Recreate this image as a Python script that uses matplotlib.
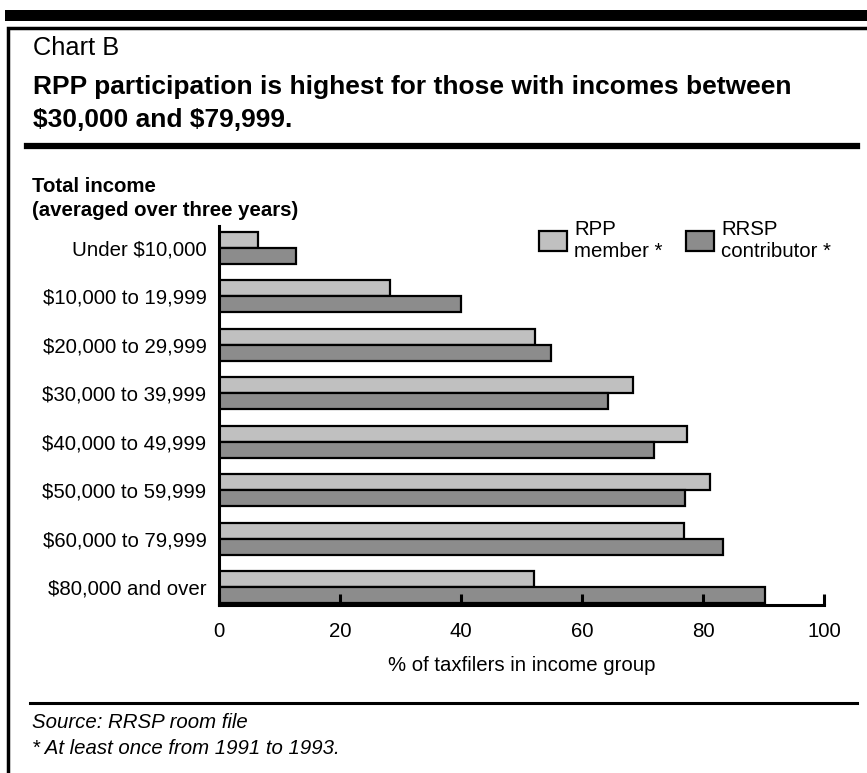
import matplotlib.pyplot as plt
from matplotlib.patches import Rectangle
from matplotlib.lines import Line2D
import numpy as np

plt.rcParams['font.family'] = ['Liberation Sans', 'DejaVu Sans']

categories = ['Under \\$10,000', '\\$10,000 to 19,999', '\\$20,000 to 29,999',
              '\\$30,000 to 39,999', '\\$40,000 to 49,999', '\\$50,000 to 59,999',
              '\\$60,000 to 79,999', '\\$80,000 and over']
rpp_member = [6.5, 28.2, 52.3, 68.4, 77.4, 81.1, 76.8, 52.0]
rrsp_contributor = [12.8, 40.0, 54.9, 64.3, 71.9, 77.1, 83.3, 90.3]
x_ticks = [0, 20, 40, 60, 80, 100]

W, H = 867, 773
fig = plt.figure(figsize=(W / 100, H / 100), dpi=100)

def fx(px):
    return px / W

def fy(py):
    return 1 - py / H

FS = 14.7

# page decorations
fig.add_artist(Rectangle((fx(5), fy(21)), 1, fy(10) - fy(21), transform=fig.transFigure,
                         color='black', lw=0))
fig.add_artist(Rectangle((fx(8), -0.1), 1.2, fy(28) + 0.1, transform=fig.transFigure,
                         fill=False, edgecolor='black', lw=2.5))
fig.add_artist(Line2D([fx(27), fx(857)], [fy(146), fy(146)], transform=fig.transFigure,
                      color='black', lw=4.5))
fig.add_artist(Line2D([fx(30), fx(857)], [fy(703), fy(703)], transform=fig.transFigure,
                      color='black', lw=2.2))

fig.text(fx(33), fy(48), 'Chart B', fontsize=18.3, va='center', ha='left')
fig.text(fx(33), fy(87), 'RPP participation is highest for those with incomes between',
         fontsize=19, fontweight='bold', va='center', ha='left')
fig.text(fx(33), fy(120), '\\$30,000 and \\$79,999.', fontsize=19, fontweight='bold',
         va='center', ha='left')
fig.text(fx(32), fy(186), 'Total income', fontsize=FS, fontweight='bold', va='center')
fig.text(fx(32), fy(210), '(averaged over three years)', fontsize=FS, fontweight='bold',
         va='center')
fig.text(fx(32), fy(723), 'Source: RRSP room file', fontsize=FS, style='italic', va='center')
fig.text(fx(32), fy(748), '* At least once from 1991 to 1993.', fontsize=FS, style='italic',
         va='center')

# chart
ax = fig.add_axes([fx(219), fy(605), fx(824) - fx(219), fy(226) - fy(605)])
y = np.arange(len(categories))
h = 0.33
ax.barh(y - h / 2, rpp_member, height=h, color='#c0c0c0', edgecolor='black', lw=1.6,
        label='RPP\nmember *')
ax.barh(y + h / 2, rrsp_contributor, height=h, color='#8c8c8c', edgecolor='black', lw=1.6,
        label='RRSP\ncontributor *')

ax.set_xlim(0, 100)
ax.set_ylim(7.37, -0.45)
ax.set_yticks(y)
ax.set_yticklabels(categories, fontsize=FS)
ax.set_xticks(x_ticks)
ax.set_xticklabels([str(t) for t in x_ticks], fontsize=FS)
ax.tick_params(axis='y', length=0, pad=9)
ax.tick_params(axis='x', direction='in', length=8, width=2.2, pad=12)
for s in ['top', 'right']:
    ax.spines[s].set_visible(False)
for s in ['left', 'bottom']:
    ax.spines[s].set_linewidth(2.2)
ax.set_xlabel('% of taxfilers in income group', fontsize=FS, labelpad=11)

ax.legend(loc='upper left', bbox_to_anchor=(fx(539), fy(220)),
          bbox_transform=fig.transFigure, ncol=2, frameon=False, fontsize=FS,
          borderpad=0, borderaxespad=0, handlelength=1.37, handleheight=1.17,
          handletextpad=0.35, columnspacing=1.15, labelspacing=0)

fig.savefig('out.png', dpi=100)
